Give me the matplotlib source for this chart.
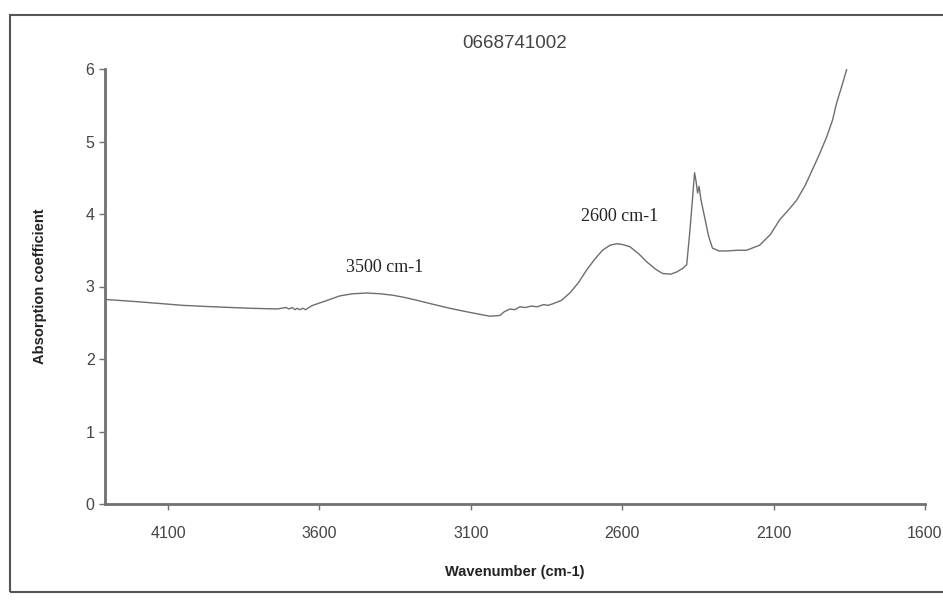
import matplotlib
matplotlib.use("Agg")
import matplotlib.pyplot as plt
from matplotlib.patches import Rectangle

# spectrum
wavenumber = [4302, 4200, 4051, 3950, 3830, 3740, 3710, 3700, 3690, 3680, 3674, 3665, 3655,
              3645, 3635, 3622, 3580, 3533, 3490, 3443, 3400, 3358, 3320, 3278, 3230,
              3170, 3100, 3037, 3004, 2990, 2971, 2955, 2938, 2920, 2900, 2880, 2860,
              2845, 2830, 2800, 2773, 2745, 2717, 2690, 2665, 2640, 2618, 2600, 2575,
              2545, 2519, 2490, 2467, 2440, 2420, 2400, 2387, 2377, 2368, 2361, 2356,
              2351, 2346, 2340, 2328, 2315, 2302, 2280, 2255, 2220, 2189, 2146, 2110,
              2080, 2050, 2024, 1995, 1972, 1948, 1925, 1905, 1892, 1875, 1859]
absorption = [2.82, 2.79, 2.74, 2.72, 2.70, 2.69, 2.71, 2.69, 2.71, 2.68, 2.70, 2.68, 2.70,
              2.68, 2.71, 2.74, 2.80, 2.87, 2.90, 2.91, 2.90, 2.88, 2.85, 2.81, 2.76,
              2.70, 2.64, 2.59, 2.60, 2.65, 2.69, 2.68, 2.72, 2.71, 2.73, 2.72, 2.75,
              2.74, 2.76, 2.81, 2.91, 3.05, 3.23, 3.38, 3.50, 3.57, 3.59, 3.58, 3.55,
              3.45, 3.34, 3.24, 3.18, 3.17, 3.20, 3.25, 3.30, 3.74, 4.20, 4.57, 4.45,
              4.29, 4.38, 4.20, 3.96, 3.70, 3.53, 3.49, 3.49, 3.50, 3.50, 3.57, 3.72,
              3.92, 4.06, 4.19, 4.40, 4.61, 4.83, 5.06, 5.30, 5.53, 5.76, 5.99]

x_ticks = [4100, 3600, 3100, 2600, 2100, 1600]
y_ticks = [0, 1, 2, 3, 4, 5, 6]
peak_labels = ["3500 cm-1", "2600 cm-1"]
peak_pos = [(3384, 3.26), (2608, 3.96)]

fig = plt.figure(figsize=(9.43, 6), dpi=100)
ax = fig.add_axes([105 / 943, 96 / 600, 820 / 943, 435 / 600])

ax.plot(wavenumber, absorption, color="#6e6e6e", lw=1.0)

ax.set_xlim(4308, 1600)
ax.set_ylim(0, 6)
ax.set_xticks(x_ticks)
ax.set_yticks(y_ticks)

sans = ["Liberation Sans", "DejaVu Sans"]
for s in ["top", "right"]:
    ax.spines[s].set_visible(False)
for s in ["left", "bottom"]:
    ax.spines[s].set_color("#707070")
    ax.spines[s].set_linewidth(2)
ax.tick_params(colors="#707070", length=4, width=1, labelcolor="#444444", labelsize=11.5)
for lab in ax.get_xticklabels() + ax.get_yticklabels():
    lab.set_family(sans)
ax.tick_params(axis="x", pad=12)

ax.set_title("0668741002", family=sans, fontsize=13.5, color="#444444", pad=15)
ax.set_xlabel("Wavenumber (cm-1)", family=sans, fontsize=10.5,
              fontweight="bold", color="#222222", labelpad=17)
ax.set_ylabel("Absorption coefficient", family=sans, fontsize=10.5,
              fontweight="bold", color="#222222", labelpad=28)

for txt, (xv, yv) in zip(peak_labels, peak_pos):
    ax.text(xv, yv, txt, family=["Liberation Serif", "DejaVu Serif"], fontsize=13,
            color="#222222", ha="center", va="center")

# outer chart frame
fig.patches.append(Rectangle((10 / 943, 8 / 600), 1.0, 577 / 600, transform=fig.transFigure,
                             fill=False, edgecolor="#555555", lw=1.5))

fig.savefig("out.png", dpi=100)
